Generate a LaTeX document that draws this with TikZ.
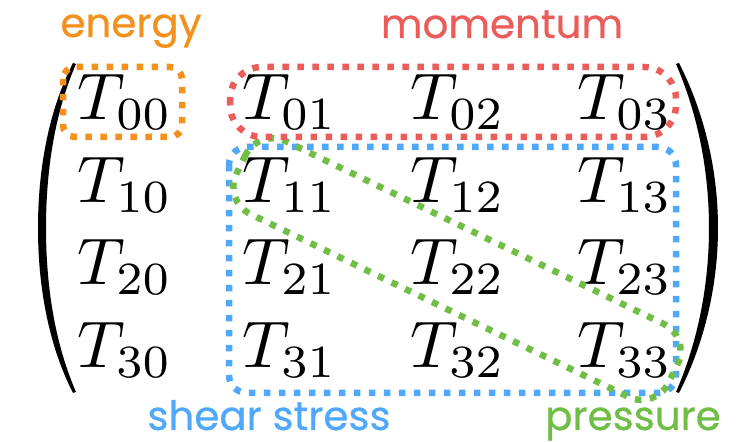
\documentclass[tikz,border=0pt]{standalone}
\usepackage{graphicx}
\usepackage{fontspec}
\setsansfont{Poppins}[FakeBold=0.6]
\definecolor{cOrange}{RGB}{243,145,30}
\definecolor{cRed}{RGB}{235,93,90}
\definecolor{cBlue}{RGB}{80,168,250}
\definecolor{cGreen}{RGB}{112,190,70}
\newcommand{\bigT}[1]{\scalebox{3.3}{\fontsize{10}{12}\selectfont$T_{#1}$}}
\tikzset{
  entry/.style={anchor=base, inner sep=0pt},
  lbl/.style={anchor=base, inner sep=0pt, font=\sffamily\fontsize{20.2}{24}\selectfont},
  dotbox/.style={line width=3.25pt, dash pattern=on 3.25pt off 4.25pt, line cap=butt},
}
\begin{document}
\begin{tikzpicture}[x=0.5pt,y=-0.5pt]
\useasboundingbox (0,0) rectangle (752,442);
% matrix entries
\foreach \r/\yy in {0/120,1/203,2/285,3/368}{
  \foreach \c/\xx in {0/125,1/290,2/458,3/625}{
    \node[entry] (t\r\c) at (\xx,\yy) {\bigT{\r\c}};
  }
}
% parentheses
\fill (73,63) .. controls (50,108) and (38,165) .. (38,228) .. controls (38,291) and (50,348) .. (73,393)
  -- (76,392) .. controls (56,346) and (46,290) .. (46,228) .. controls (46,166) and (56,110) .. (76,64) -- cycle;
\fill (679,63) .. controls (702,108) and (718,165) .. (718,228) .. controls (718,291) and (702,348) .. (679,393)
  -- (676,392) .. controls (696,346) and (709,290) .. (709,228) .. controls (709,166) and (696,110) .. (676,64) -- cycle;
% boxes
\draw[dotbox, cBlue, rounded corners=9pt] (229,147) rectangle (676,393);
\draw[dotbox, cGreen, rounded corners=15pt, rotate around={-25.8:(457,269)}] (217,228.5) rectangle (697,309.5);
\draw[dotbox, cRed, rounded corners=16pt] (230,67) rectangle (676,137);
\draw[dotbox, cOrange, rounded corners=6pt] (63,67) rectangle (182,137);
% labels
\node[lbl, cOrange] (lenergy) at (131,37) {energy};
\node[lbl, cRed] (lmom) at (502,38) {momentum};
\node[lbl, cBlue] (lshear) at (269,430) {shear stress};
\node[lbl, cGreen] (lpress) at (633,430) {pressure};
\end{tikzpicture}
\end{document}
